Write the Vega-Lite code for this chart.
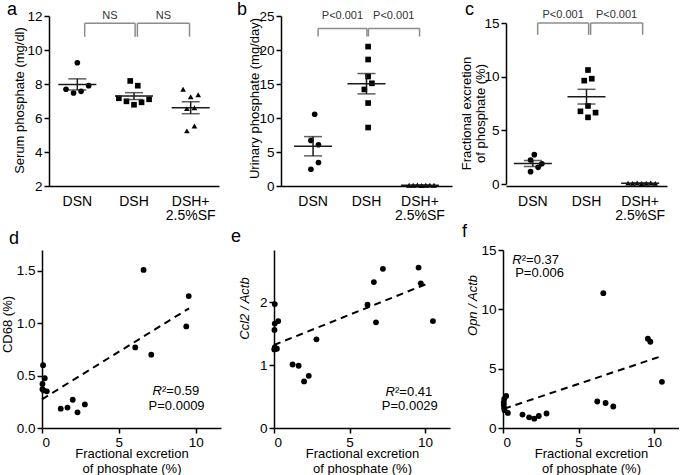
{
  "$schema": "https://vega.github.io/schema/vega-lite/v6.json",
  "autosize": {"type": "pad"},
  "padding": {"left": 1, "top": 0, "right": 0, "bottom": 0},
  "background": "white",
  "config": {
    "font": "Liberation Sans",
    "view": {"stroke": null},
    "axis": {"domainColor": "#000", "domainWidth": 1.5, "tickColor": "#000", "tickWidth": 1.5, "tickSize": 5, "labelColor": "#000", "labelFontSize": 13.5, "labelFont": "Liberation Sans", "titleFont": "Liberation Sans", "titleFontSize": 13, "titleFontWeight": "normal", "titleColor": "#000", "grid": false, "labelPadding": 2, "labelOverlap": false},
    "title": {"font": "Liberation Sans", "fontSize": 18, "fontWeight": "normal", "anchor": "start", "frame": "group", "baseline": "alphabetic", "offset": 0, "color": "#000"}
  },
  "datasets": {
    "a": [
      {"group": "DSN", "v": 9.25, "slot": 0}, {"group": "DSN", "v": 7.69, "slot": -3}, {"group": "DSN", "v": 7.47, "slot": -1}, {"group": "DSN", "v": 7.57, "slot": 1}, {"group": "DSN", "v": 7.9, "slot": 3},
      {"group": "DSH", "v": 8.18, "slot": -1}, {"group": "DSH", "v": 7.9, "slot": 1}, {"group": "DSH", "v": 7.16, "slot": -4}, {"group": "DSH", "v": 6.98, "slot": -2}, {"group": "DSH", "v": 6.78, "slot": 0}, {"group": "DSH", "v": 6.92, "slot": 2}, {"group": "DSH", "v": 7.1, "slot": 4},
      {"group": "DSH+2.5%SF", "v": 7.69, "slot": -2}, {"group": "DSH+2.5%SF", "v": 7.25, "slot": 0}, {"group": "DSH+2.5%SF", "v": 7.37, "slot": 2}, {"group": "DSH+2.5%SF", "v": 6.55, "slot": -1}, {"group": "DSH+2.5%SF", "v": 6.6, "slot": 1}, {"group": "DSH+2.5%SF", "v": 5.24, "slot": -1}, {"group": "DSH+2.5%SF", "v": 5.53, "slot": 1}
    ],
    "b": [
      {"group": "DSN", "v": 10.55, "slot": 0}, {"group": "DSN", "v": 6.7, "slot": -1}, {"group": "DSN", "v": 6.07, "slot": 1}, {"group": "DSN", "v": 3.45, "slot": 1}, {"group": "DSN", "v": 2.46, "slot": -1},
      {"group": "DSH", "v": 20.5, "slot": 0}, {"group": "DSH", "v": 18.6, "slot": 0}, {"group": "DSH", "v": 16.1, "slot": 0}, {"group": "DSH", "v": 15.1, "slot": 1}, {"group": "DSH", "v": 14.2, "slot": -1}, {"group": "DSH", "v": 12.2, "slot": 0}, {"group": "DSH", "v": 8.6, "slot": 0},
      {"group": "DSH+2.5%SF", "v": 0.12, "slot": -3.3}, {"group": "DSH+2.5%SF", "v": 0.1, "slot": -2.2}, {"group": "DSH+2.5%SF", "v": 0.15, "slot": -1.1}, {"group": "DSH+2.5%SF", "v": 0.08, "slot": 0}, {"group": "DSH+2.5%SF", "v": 0.1, "slot": 1.1}, {"group": "DSH+2.5%SF", "v": 0.13, "slot": 2.2}, {"group": "DSH+2.5%SF", "v": 0.11, "slot": 3.3}
    ],
    "c": [
      {"group": "DSN", "v": 2.73, "slot": 0}, {"group": "DSN", "v": 2.24, "slot": -1}, {"group": "DSN", "v": 1.89, "slot": 2}, {"group": "DSN", "v": 1.55, "slot": 1}, {"group": "DSN", "v": 1.15, "slot": -1},
      {"group": "DSH", "v": 10.62, "slot": 0}, {"group": "DSH", "v": 9.63, "slot": -1}, {"group": "DSH", "v": 9.81, "slot": 1}, {"group": "DSH", "v": 7.27, "slot": 0}, {"group": "DSH", "v": 6.77, "slot": -2}, {"group": "DSH", "v": 6.65, "slot": 2}, {"group": "DSH", "v": 6.21, "slot": 0},
      {"group": "DSH+2.5%SF", "v": 0.08, "slot": -3.6}, {"group": "DSH+2.5%SF", "v": 0.06, "slot": -2.4}, {"group": "DSH+2.5%SF", "v": 0.1, "slot": -1.2}, {"group": "DSH+2.5%SF", "v": 0.05, "slot": 0}, {"group": "DSH+2.5%SF", "v": 0.07, "slot": 1.2}, {"group": "DSH+2.5%SF", "v": 0.09, "slot": 2.4}, {"group": "DSH+2.5%SF", "v": 0.06, "slot": 3.6}
    ],
    "bra": [
      {"x": 0.63, "x2": 1.52, "v": 11.57, "v2": 11.57}, {"x": 0.63, "x2": 0.63, "v": 11.57, "v2": 10.78}, {"x": 1.52, "x2": 1.52, "v": 11.57, "v2": 10.78},
      {"x": 1.56, "x2": 2.48, "v": 11.57, "v2": 11.57}, {"x": 1.56, "x2": 1.56, "v": 11.57, "v2": 10.78}, {"x": 2.48, "x2": 2.48, "v": 11.57, "v2": 10.78}
    ],
    "laba": [{"x": 1.075, "v": 12.0, "label": "NS"}, {"x": 2.02, "v": 12.0, "label": "NS"}],
    "brb": [
      {"x": 0.594, "x2": 1.508, "v": 23.18, "v2": 23.18}, {"x": 0.594, "x2": 0.594, "v": 23.18, "v2": 22.0}, {"x": 1.508, "x2": 1.508, "v": 23.18, "v2": 22.0},
      {"x": 1.536, "x2": 2.493, "v": 23.18, "v2": 23.18}, {"x": 1.536, "x2": 1.536, "v": 23.18, "v2": 22.0}, {"x": 2.493, "x2": 2.493, "v": 23.18, "v2": 22.0}
    ],
    "labb": [{"x": 1.05, "v": 25.0, "label": "P<0.001"}, {"x": 2.01, "v": 25.0, "label": "P<0.001"}],
    "brc": [
      {"x": 0.59, "x2": 1.54, "v": 15.0, "v2": 15.0}, {"x": 0.59, "x2": 0.59, "v": 15.0, "v2": 13.9}, {"x": 1.54, "x2": 1.54, "v": 15.0, "v2": 13.9},
      {"x": 1.577, "x2": 2.546, "v": 15.0, "v2": 15.0}, {"x": 1.577, "x2": 1.577, "v": 15.0, "v2": 13.9}, {"x": 2.546, "x2": 2.546, "v": 15.0, "v2": 13.9}
    ],
    "labc": [{"x": 1.065, "v": 15.75, "label": "P<0.001"}, {"x": 2.06, "v": 15.75, "label": "P<0.001"}],
    "d": [
      {"x": 6.61, "y": 1.51}, {"x": 9.55, "y": 1.26}, {"x": 9.39, "y": 0.97}, {"x": 6.07, "y": 0.77}, {"x": 7.11, "y": 0.7},
      {"x": 0.07, "y": 0.6}, {"x": 0.18, "y": 0.475}, {"x": 0.03, "y": 0.42}, {"x": 0.03, "y": 0.37}, {"x": 0.31, "y": 0.35}, {"x": 0.1, "y": 0.36},
      {"x": 1.22, "y": 0.185}, {"x": 1.66, "y": 0.195}, {"x": 2.0, "y": 0.27}, {"x": 2.31, "y": 0.15}, {"x": 2.79, "y": 0.225}
    ],
    "e": [
      {"x": 7.21, "y": 2.53}, {"x": 9.57, "y": 2.55}, {"x": 6.61, "y": 2.32}, {"x": 9.72, "y": 2.3}, {"x": 6.19, "y": 1.96}, {"x": 6.75, "y": 1.68}, {"x": 10.52, "y": 1.7},
      {"x": 0.05, "y": 1.97}, {"x": 0.05, "y": 1.66}, {"x": 0.28, "y": 1.7}, {"x": 0.03, "y": 1.56}, {"x": 0.05, "y": 1.28}, {"x": 0.19, "y": 1.26}, {"x": 0.02, "y": 1.25},
      {"x": 1.23, "y": 1.01}, {"x": 1.63, "y": 0.99}, {"x": 2.3, "y": 0.83}, {"x": 1.99, "y": 0.74}, {"x": 2.81, "y": 1.41}
    ],
    "f": [
      {"x": 6.64, "y": 11.36}, {"x": 9.59, "y": 7.52}, {"x": 9.75, "y": 7.27}, {"x": 10.52, "y": 3.89}, {"x": 6.24, "y": 2.23}, {"x": 6.79, "y": 2.11}, {"x": 7.3, "y": 1.81},
      {"x": 0.21, "y": 2.7}, {"x": 0.08, "y": 2.45}, {"x": 0.05, "y": 2.15}, {"x": 0.05, "y": 1.95}, {"x": 0.07, "y": 1.7}, {"x": 0.32, "y": 1.27}, {"x": 0.1, "y": 1.5},
      {"x": 1.29, "y": 1.13}, {"x": 1.73, "y": 0.9}, {"x": 2.07, "y": 0.79}, {"x": 2.37, "y": 1.01}, {"x": 2.88, "y": 1.22}
    ],
    "ld": [{"x": 0, "y": 0.274}, {"x": 9.57, "y": 1.143}],
    "le": [{"x": 0, "y": 1.32}, {"x": 10.1, "y": 2.29}],
    "lf": [{"x": 0.07, "y": 1.62}, {"x": 10.48, "y": 6.05}],
    "sd": [{"label": "R", "x": 7.81, "y": 0.354, "part": "r"}, {"label": "²=0.59", "x": 7.81, "y": 0.354, "part": "s"}, {"label": "P=0.0009", "x": 8.76, "y": 0.213, "part": "p"}],
    "se": [{"label": "R", "x": 8.01, "y": 0.577, "part": "r"}, {"label": "²=0.41", "x": 8.01, "y": 0.577, "part": "s"}, {"label": "P=0.0029", "x": 8.99, "y": 0.355, "part": "p"}],
    "sf": [{"label": "R", "x": 1.24, "y": 14.15, "part": "r"}, {"label": "²=0.37", "x": 1.24, "y": 14.15, "part": "s"}, {"label": "P=0.006", "x": 2.42, "y": 13.03, "part": "p"}]
  },
  "vconcat": [
    {
      "hconcat": [
        {
          "width": 177, "height": 170,
          "title": {"text": "a", "dx": -35, "dy": 14},
          "encoding": {
            "y": {"field": "v", "type": "quantitative", "title": "Serum phosphate (mg/dl)", "scale": {"domain": [2, 12], "nice": false, "zero": false},
                  "axis": {"values": [2, 4, 6, 8, 10, 12], "offset": -7, "titleX": -30, "titleY": 84, "titleBaseline": "middle"}}
          },
          "layer": [
            {"layer": [
              {"data": {"name": "a"}, "mark": {"type": "point", "filled": true, "size": 32, "opacity": 1, "color": "#000"},
               "encoding": {
                 "x": {"field": "group", "type": "nominal", "sort": null, "title": null, "scale": {"domain": ["DSN", "DSH", "DSH+2.5%SF"], "range": [7, 177], "paddingInner": 0, "paddingOuter": 0},
                       "axis": {"ticks": false, "labelAngle": 0, "labelPadding": 8, "labelFontSize": 14, "labelLineHeight": 14, "labelExpr": "datum.value == 'DSH+2.5%SF' ? ['DSH+', '2.5%SF'] : datum.value"}},
                 "xOffset": {"field": "slot", "type": "quantitative", "scale": {"domain": [-7.5, 7.5]}},
                 "shape": {"field": "group", "type": "nominal", "scale": {"domain": ["DSN", "DSH", "DSH+2.5%SF"], "range": ["circle", "square", "triangle-up"]}, "legend": null}
               }},
              {"data": {"name": "a"}, "mark": {"type": "tick", "size": 38, "thickness": 1.5, "color": "#1a1a1a"},
               "encoding": {"x": {"field": "group", "type": "nominal", "title": null}, "y": {"aggregate": "mean", "field": "v", "type": "quantitative", "title": "Serum phosphate (mg/dl)", "axis": {"values": [2, 4, 6, 8, 10, 12], "offset": -7, "titleX": -30, "titleY": 84, "titleBaseline": "middle"}}}},
              {"data": {"name": "a"}, "mark": {"type": "errorbar", "extent": "stderr", "ticks": {"size": 18, "thickness": 1.5}, "rule": {"strokeWidth": 1.5}, "color": "#1a1a1a"},
               "encoding": {"x": {"field": "group", "type": "nominal", "title": null}}}
            ]},
            {"layer": [
              {"data": {"name": "bra"}, "mark": {"type": "rule", "color": "#8c8c8c", "strokeWidth": 1.5},
               "encoding": {"x": {"field": "x", "type": "quantitative", "scale": {"domain": [0, 3], "range": [7, 177], "nice": false, "zero": false}, "axis": null}, "x2": {"field": "x2"}, "y2": {"field": "v2"}}},
              {"data": {"name": "laba"}, "mark": {"type": "text", "fontSize": 11, "color": "#333"},
               "encoding": {"x": {"field": "x", "type": "quantitative"}, "text": {"field": "label"}}}
            ]}
          ],
          "resolve": {"scale": {"x": "independent"}}
        },
        {
          "width": 179, "height": 170,
          "title": {"text": "b", "dx": -36, "dy": 14},
          "encoding": {
            "y": {"field": "v", "type": "quantitative", "title": "Urinary phosphate (mg/day)", "scale": {"domain": [0, 25], "nice": false, "zero": false},
                  "axis": {"values": [0, 5, 10, 15, 20, 25], "offset": -8, "titleX": -27, "titleY": 82, "titleBaseline": "middle"}}
          },
          "layer": [
            {"layer": [
              {"data": {"name": "b"}, "mark": {"type": "point", "filled": true, "size": 32, "opacity": 1, "color": "#000"},
               "encoding": {
                 "x": {"field": "group", "type": "nominal", "sort": null, "title": null, "scale": {"domain": ["DSN", "DSH", "DSH+2.5%SF"], "range": [8, 179], "paddingInner": 0, "paddingOuter": 0.1},
                       "axis": {"ticks": false, "labelAngle": 0, "labelPadding": 8, "labelFontSize": 14, "labelLineHeight": 14, "labelExpr": "datum.value == 'DSH+2.5%SF' ? ['DSH+', '2.5%SF'] : datum.value"}},
                 "xOffset": {"field": "slot", "type": "quantitative", "scale": {"domain": [-7.5, 7.5]}},
                 "shape": {"field": "group", "type": "nominal", "scale": {"domain": ["DSN", "DSH", "DSH+2.5%SF"], "range": ["circle", "square", "triangle-up"]}, "legend": null}
               }},
              {"data": {"name": "b"}, "mark": {"type": "tick", "size": 38, "thickness": 1.5, "color": "#1a1a1a"},
               "encoding": {"x": {"field": "group", "type": "nominal", "title": null}, "y": {"aggregate": "mean", "field": "v", "type": "quantitative", "title": "Urinary phosphate (mg/day)", "axis": {"values": [0, 5, 10, 15, 20, 25], "offset": -8, "titleX": -27, "titleY": 82, "titleBaseline": "middle"}}}},
              {"data": {"name": "b"}, "mark": {"type": "errorbar", "extent": "stderr", "ticks": {"size": 18, "thickness": 1.5}, "rule": {"strokeWidth": 1.5}, "color": "#1a1a1a"},
               "encoding": {"x": {"field": "group", "type": "nominal", "title": null}}}
            ]},
            {"layer": [
              {"data": {"name": "brb"}, "mark": {"type": "rule", "color": "#8c8c8c", "strokeWidth": 1.5},
               "encoding": {"x": {"field": "x", "type": "quantitative", "scale": {"domain": [-0.1, 3.1], "range": [8, 179], "nice": false, "zero": false}, "axis": null}, "x2": {"field": "x2"}, "y2": {"field": "v2"}}},
              {"data": {"name": "labb"}, "mark": {"type": "text", "fontSize": 11, "color": "#333"},
               "encoding": {"x": {"field": "x", "type": "quantitative"}, "text": {"field": "label"}}}
            ]}
          ],
          "resolve": {"scale": {"x": "independent"}}
        },
        {
          "width": 161, "height": 170,
          "title": {"text": "c", "dx": -41, "dy": 14},
          "encoding": {
            "y": {"field": "v", "type": "quantitative", "title": ["Fractional excretion", "of phosphate (%)"], "scale": {"domain": [0, 15], "range": [168, 7], "nice": false, "zero": false},
                  "axis": {"values": [0, 5, 10, 15], "titleX": -40, "titleY": 97, "titleBaseline": "middle", "titleLineHeight": 14}}
          },
          "layer": [
            {"layer": [
              {"data": {"name": "c"}, "mark": {"type": "point", "filled": true, "size": 32, "opacity": 1, "color": "#000"},
               "encoding": {
                 "x": {"field": "group", "type": "nominal", "sort": null, "title": null, "scale": {"domain": ["DSN", "DSH", "DSH+2.5%SF"], "range": [0, 161], "paddingInner": 0, "paddingOuter": 0},
                       "axis": {"ticks": false, "labelAngle": 0, "labelPadding": 8, "labelFontSize": 14, "labelLineHeight": 14, "labelExpr": "datum.value == 'DSH+2.5%SF' ? ['DSH+', '2.5%SF'] : datum.value"}},
                 "xOffset": {"field": "slot", "type": "quantitative", "scale": {"domain": [-7.5, 7.5]}},
                 "shape": {"field": "group", "type": "nominal", "scale": {"domain": ["DSN", "DSH", "DSH+2.5%SF"], "range": ["circle", "square", "triangle-up"]}, "legend": null}
               }},
              {"data": {"name": "c"}, "mark": {"type": "tick", "size": 38, "thickness": 1.5, "color": "#1a1a1a"},
               "encoding": {"x": {"field": "group", "type": "nominal", "title": null}, "y": {"aggregate": "mean", "field": "v", "type": "quantitative", "title": ["Fractional excretion", "of phosphate (%)"], "axis": {"values": [0, 5, 10, 15], "titleX": -40, "titleY": 97, "titleBaseline": "middle", "titleLineHeight": 14}}}},
              {"data": {"name": "c"}, "mark": {"type": "errorbar", "extent": "stderr", "ticks": {"size": 18, "thickness": 1.5}, "rule": {"strokeWidth": 1.5}, "color": "#1a1a1a"},
               "encoding": {"x": {"field": "group", "type": "nominal", "title": null}}}
            ]},
            {"layer": [
              {"data": {"name": "brc"}, "mark": {"type": "rule", "color": "#8c8c8c", "strokeWidth": 1.5},
               "encoding": {"x": {"field": "x", "type": "quantitative", "scale": {"domain": [0, 3], "range": [0, 161], "nice": false, "zero": false}, "axis": null}, "x2": {"field": "x2"}, "y2": {"field": "v2"}}},
              {"data": {"name": "labc"}, "mark": {"type": "text", "fontSize": 11, "color": "#333"},
               "encoding": {"x": {"field": "x", "type": "quantitative"}, "text": {"field": "label"}}}
            ]}
          ],
          "resolve": {"scale": {"x": "independent"}}
        }
      ],
      "spacing": 54,
      "bounds": "flush"
    },
    {
      "hconcat": [
        {
          "width": 179, "height": 178,
          "title": {"text": "d", "dx": -33, "dy": 2},
          "layer": [
            {"data": {"name": "d"}, "mark": {"type": "circle", "size": 34, "opacity": 1, "color": "#000"},
             "encoding": {
               "x": {"field": "x", "type": "quantitative", "title": ["Fractional excretion", "of phosphate (%)"], "scale": {"domain": [0, 11.65], "nice": false, "zero": false}, "axis": {"values": [0, 5, 10], "titleLineHeight": 15, "titlePadding": -1}},
               "y": {"field": "y", "type": "quantitative", "title": "CD68 (%)", "scale": {"domain": [0, 1.7], "nice": false, "zero": false}, "axis": {"values": [0, 0.5, 1, 1.5], "format": ".1f", "titleX": -35, "titleY": 74, "titleBaseline": "middle"}}
             }},
            {"data": {"name": "ld"}, "mark": {"type": "line", "color": "#000", "strokeWidth": 2, "strokeDash": [7, 5]},
             "encoding": {"x": {"field": "x", "type": "quantitative", "title": ["Fractional excretion", "of phosphate (%)"]}, "y": {"field": "y", "type": "quantitative", "title": "CD68 (%)"}}},
            {"data": {"name": "sd"}, "transform": [{"filter": "datum.part == 'r'"}], "mark": {"type": "text", "fontSize": 13, "fontStyle": "italic", "align": "right", "color": "#000"},
             "encoding": {"x": {"field": "x", "type": "quantitative", "title": ["Fractional excretion", "of phosphate (%)"]}, "y": {"field": "y", "type": "quantitative", "title": "CD68 (%)"}, "text": {"field": "label"}}},
            {"data": {"name": "sd"}, "transform": [{"filter": "datum.part == 's'"}], "mark": {"type": "text", "fontSize": 13, "align": "left", "color": "#000"},
             "encoding": {"x": {"field": "x", "type": "quantitative", "title": ["Fractional excretion", "of phosphate (%)"]}, "y": {"field": "y", "type": "quantitative", "title": "CD68 (%)"}, "text": {"field": "label"}}},
            {"data": {"name": "sd"}, "transform": [{"filter": "datum.part == 'p'"}], "mark": {"type": "text", "fontSize": 13, "align": "center", "color": "#000"},
             "encoding": {"x": {"field": "x", "type": "quantitative", "title": ["Fractional excretion", "of phosphate (%)"]}, "y": {"field": "y", "type": "quantitative", "title": "CD68 (%)"}, "text": {"field": "label"}}}
          ]
        },
        {
          "width": 176, "height": 178,
          "title": {"text": "e", "dx": -43, "dy": 0},
          "layer": [
            {"data": {"name": "e"}, "mark": {"type": "circle", "size": 34, "opacity": 1, "color": "#000"},
             "encoding": {
               "x": {"field": "x", "type": "quantitative", "title": ["Fractional excretion", "of phosphate (%)"], "scale": {"domain": [0, 11.65], "nice": false, "zero": false}, "axis": {"values": [0, 5, 10], "titleLineHeight": 15, "titlePadding": -1}},
               "y": {"field": "y", "type": "quantitative", "title": "Ccl2 / Actb", "scale": {"domain": [0, 2.83], "nice": false, "zero": false}, "axis": {"values": [0, 1, 2], "format": "d", "titleFontStyle": "italic", "titleX": -30, "titleY": 58, "titleBaseline": "middle"}}
             }},
            {"data": {"name": "le"}, "mark": {"type": "line", "color": "#000", "strokeWidth": 2, "strokeDash": [7, 5]},
             "encoding": {"x": {"field": "x", "type": "quantitative", "title": ["Fractional excretion", "of phosphate (%)"]}, "y": {"field": "y", "type": "quantitative", "title": "Ccl2 / Actb"}}},
            {"data": {"name": "se"}, "transform": [{"filter": "datum.part == 'r'"}], "mark": {"type": "text", "fontSize": 13, "fontStyle": "italic", "align": "right", "color": "#000"},
             "encoding": {"x": {"field": "x", "type": "quantitative", "title": ["Fractional excretion", "of phosphate (%)"]}, "y": {"field": "y", "type": "quantitative", "title": "Ccl2 / Actb"}, "text": {"field": "label"}}},
            {"data": {"name": "se"}, "transform": [{"filter": "datum.part == 's'"}], "mark": {"type": "text", "fontSize": 13, "align": "left", "color": "#000"},
             "encoding": {"x": {"field": "x", "type": "quantitative", "title": ["Fractional excretion", "of phosphate (%)"]}, "y": {"field": "y", "type": "quantitative", "title": "Ccl2 / Actb"}, "text": {"field": "label"}}},
            {"data": {"name": "se"}, "transform": [{"filter": "datum.part == 'p'"}], "mark": {"type": "text", "fontSize": 13, "align": "center", "color": "#000"},
             "encoding": {"x": {"field": "x", "type": "quantitative", "title": ["Fractional excretion", "of phosphate (%)"]}, "y": {"field": "y", "type": "quantitative", "title": "Ccl2 / Actb"}, "text": {"field": "label"}}}
          ]
        },
        {
          "width": 176, "height": 178,
          "title": {"text": "f", "dx": -41, "dy": 2},
          "layer": [
            {"data": {"name": "f"}, "mark": {"type": "circle", "size": 34, "opacity": 1, "color": "#000"},
             "encoding": {
               "x": {"field": "x", "type": "quantitative", "title": ["Fractional excretion", "of phosphate (%)"], "scale": {"domain": [0, 11.65], "nice": false, "zero": false}, "axis": {"values": [0, 5, 10], "titleLineHeight": 15, "titlePadding": -1}},
               "y": {"field": "y", "type": "quantitative", "title": "Opn / Actb", "scale": {"domain": [0, 15], "nice": false, "zero": false}, "axis": {"values": [0, 5, 10, 15], "titleFontStyle": "italic", "titleX": -31, "titleY": 55, "titleBaseline": "middle"}}
             }},
            {"data": {"name": "lf"}, "mark": {"type": "line", "color": "#000", "strokeWidth": 2, "strokeDash": [7, 5]},
             "encoding": {"x": {"field": "x", "type": "quantitative", "title": ["Fractional excretion", "of phosphate (%)"]}, "y": {"field": "y", "type": "quantitative", "title": "Opn / Actb"}}},
            {"data": {"name": "sf"}, "transform": [{"filter": "datum.part == 'r'"}], "mark": {"type": "text", "fontSize": 13, "fontStyle": "italic", "align": "right", "color": "#000"},
             "encoding": {"x": {"field": "x", "type": "quantitative", "title": ["Fractional excretion", "of phosphate (%)"]}, "y": {"field": "y", "type": "quantitative", "title": "Opn / Actb"}, "text": {"field": "label"}}},
            {"data": {"name": "sf"}, "transform": [{"filter": "datum.part == 's'"}], "mark": {"type": "text", "fontSize": 13, "align": "left", "color": "#000"},
             "encoding": {"x": {"field": "x", "type": "quantitative", "title": ["Fractional excretion", "of phosphate (%)"]}, "y": {"field": "y", "type": "quantitative", "title": "Opn / Actb"}, "text": {"field": "label"}}},
            {"data": {"name": "sf"}, "transform": [{"filter": "datum.part == 'p'"}], "mark": {"type": "text", "fontSize": 13, "align": "center", "color": "#000"},
             "encoding": {"x": {"field": "x", "type": "quantitative", "title": ["Fractional excretion", "of phosphate (%)"]}, "y": {"field": "y", "type": "quantitative", "title": "Opn / Actb"}, "text": {"field": "label"}}}
          ]
        }
      ],
      "spacing": 53,
      "bounds": "flush"
    }
  ],
  "spacing": 1,
  "bounds": "full"
}
